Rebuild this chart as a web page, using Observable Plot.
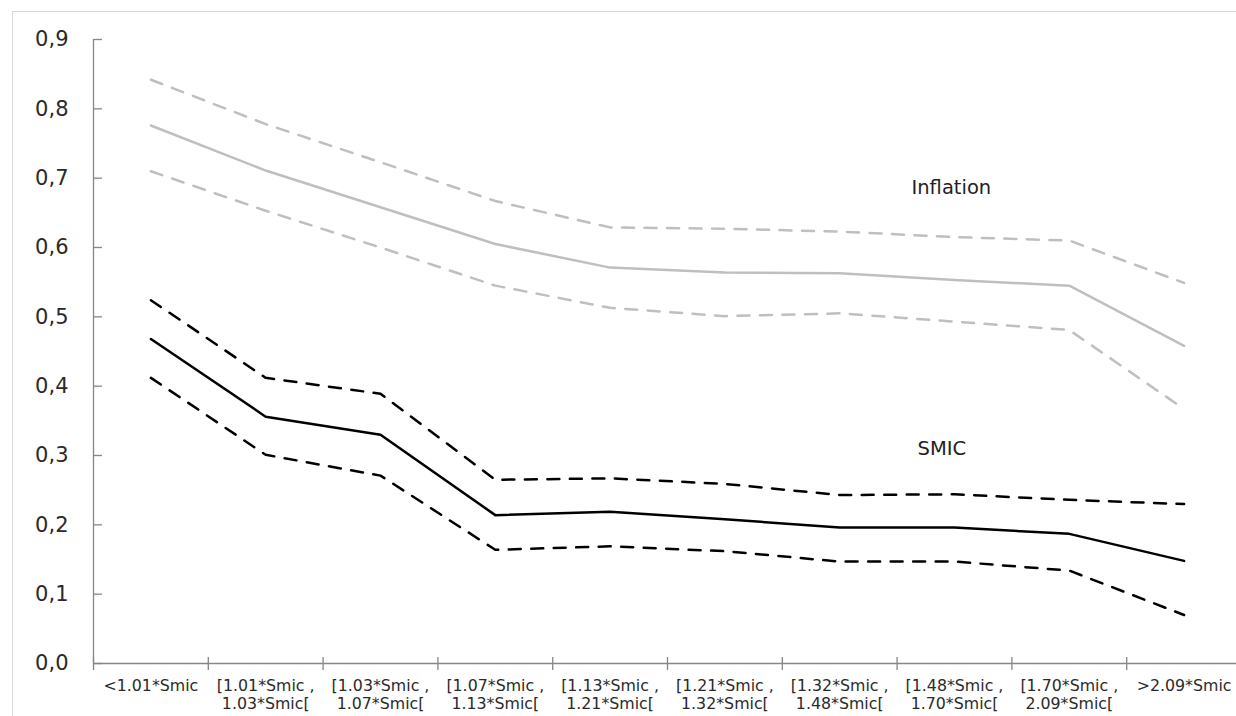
<!DOCTYPE html>
<html>
<head>
<meta charset="utf-8">
<script src="https://cdn.jsdelivr.net/npm/d3@7"></script>
<script src="https://cdn.jsdelivr.net/npm/@observablehq/plot@0.6"></script>
<style>
  html, body { margin: 0; padding: 0; background: #fff; overflow: hidden; }
  #wrap { position: relative; width: 1236px; height: 716px; overflow: hidden; }
  #frame { position: absolute; left: 12px; top: 11px; width: 1400px; height: 900px; border: 1px solid #d9d9d9; pointer-events: none; }
  #chart svg { display: block; }
</style>
</head>
<body>
<div id="wrap"><div id="chart"></div><div id="frame"></div></div>
<script>
const categories = [
  "<1.01*Smic",
  "[1.01*Smic , 1.03*Smic[",
  "[1.03*Smic , 1.07*Smic[",
  "[1.07*Smic , 1.13*Smic[",
  "[1.13*Smic , 1.21*Smic[",
  "[1.21*Smic , 1.32*Smic[",
  "[1.32*Smic , 1.48*Smic[",
  "[1.48*Smic , 1.70*Smic[",
  "[1.70*Smic , 2.09*Smic[",
  ">2.09*Smic"
];
const yTicks = [0, 0.1, 0.2, 0.3, 0.4, 0.5, 0.6, 0.7, 0.8, 0.9];

const inflation      = [0.776, 0.711, 0.658, 0.605, 0.571, 0.564, 0.563, 0.553, 0.545, 0.458];
const inflationUpper = [0.842, 0.778, 0.723, 0.667, 0.629, 0.627, 0.623, 0.615, 0.610, 0.549];
const inflationLower = [0.710, 0.653, 0.600, 0.545, 0.513, 0.501, 0.505, 0.493, 0.481, 0.367];

const smic      = [0.468, 0.356, 0.330, 0.214, 0.219, 0.208, 0.196, 0.196, 0.187, 0.148];
const smicUpper = [0.524, 0.412, 0.389, 0.265, 0.267, 0.259, 0.243, 0.244, 0.236, 0.230];
const smicLower = [0.412, 0.301, 0.271, 0.164, 0.169, 0.162, 0.147, 0.147, 0.134, 0.070];

const annotations = [
  {label: "Inflation", category: "[1.48*Smic , 1.70*Smic[", value: 0.686},
  {label: "SMIC",      category: "[1.48*Smic , 1.70*Smic[", value: 0.310}
];

const toRows = (arr) => arr.map((v, i) => ({category: categories[i], value: v}));

const bw = 114.8;
const axisColor = "#868686";
const grey = "#bfbfbf";
const dash = "12,10.5";

const chart = Plot.plot({
  width: 1236,
  height: 716,
  marginLeft: 93,
  marginRight: 0,
  marginTop: 39,
  marginBottom: 53,
  style: {fontFamily: "DejaVu Sans", background: "transparent", color: "#2a2a2a"},
  x: {type: "band", domain: categories, range: [93, 93 + 10 * bw], padding: 0, round: false, label: null},
  y: {domain: [0, 0.9], label: null},
  marks: [
    // axis lines and ticks
    Plot.ruleY([0], {stroke: axisColor, strokeWidth: 1.3}),
    Plot.ruleX([categories[0]], {x: d => d, y1: 0, y2: 0.9, dx: -bw / 2, stroke: axisColor, strokeWidth: 1.3}),
    Plot.ruleX(categories, {x: d => d, y1: 0, y2: 0, dx: -bw / 2, insetTop: -6, insetBottom: -7, stroke: axisColor, strokeWidth: 1.3}),
    Plot.ruleY(yTicks, {y: d => d, x1: () => categories[0], x2: () => categories[0], insetRight: bw - 9, stroke: axisColor, strokeWidth: 1.3}),
    // inflation
    Plot.lineY(toRows(inflationUpper), {x: "category", y: "value", stroke: grey, strokeWidth: 2.5, strokeDasharray: dash}),
    Plot.lineY(toRows(inflationLower), {x: "category", y: "value", stroke: grey, strokeWidth: 2.5, strokeDasharray: dash}),
    Plot.lineY(toRows(inflation), {x: "category", y: "value", stroke: grey, strokeWidth: 2.5}),
    // smic
    Plot.lineY(toRows(smicUpper), {x: "category", y: "value", stroke: "#000", strokeWidth: 2.5, strokeDasharray: dash}),
    Plot.lineY(toRows(smicLower), {x: "category", y: "value", stroke: "#000", strokeWidth: 2.5, strokeDasharray: dash}),
    Plot.lineY(toRows(smic), {x: "category", y: "value", stroke: "#000", strokeWidth: 2.5}),
    // annotations
    Plot.text(annotations.slice(0, 1), {x: "category", y: "value", text: "label", textAnchor: "start", dx: -43, fontSize: 19.5, fill: "#222"}),
    Plot.text(annotations.slice(1, 2), {x: "category", y: "value", text: "label", textAnchor: "start", dx: -37, fontSize: 19.5, fill: "#222"}),
    // tick labels
    Plot.axisY({ticks: yTicks, tickSize: 0, tickPadding: 25, fontSize: 21, label: null,
      tickFormat: d => d.toFixed(1).replace(".", ",")}),
    Plot.axisX({tickSize: 0, tickPadding: 15, fontSize: 15.8, lineHeight: 1.12, label: null,
      tickFormat: d => d.replace(" , ", " ,\n")})
  ]
});
document.getElementById("chart").appendChild(chart);
</script>
</body>
</html>
